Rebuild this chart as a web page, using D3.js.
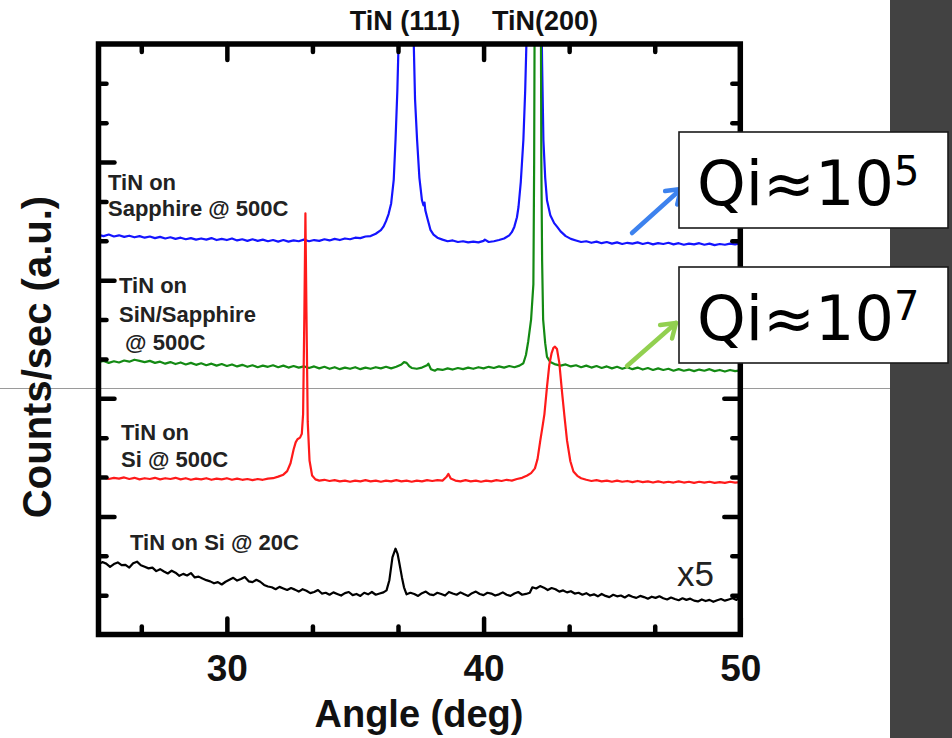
<!DOCTYPE html>
<html>
<head>
<meta charset="utf-8">
<script src="https://cdn.jsdelivr.net/npm/d3@7"></script>
<style>
  html, body { margin: 0; padding: 0; background: #fff; }
  svg { display: block; }
</style>
</head>
<body>
<svg id="chart" width="952" height="738"></svg>
<script>
// XRD scans of TiN films: [2-theta (deg), counts/sec in stacked arbitrary units]
const sapphire500 = [
  [25.0,10.15],[25.2,10.12],[25.4,10.16],[25.6,10.11],[25.8,10.14],[26.0,10.10],[26.2,10.13],[26.4,10.09],
  [26.6,10.12],[26.8,10.08],[27.0,10.11],[27.2,10.07],[27.4,10.10],[27.6,10.06],[27.8,10.09],[28.0,10.05],
  [28.2,10.08],[28.4,10.04],[28.6,10.07],[28.8,10.03],[29.0,10.06],[29.2,10.03],[29.4,10.07],[29.6,10.02],
  [29.8,10.05],[30.0,10.02],[30.2,10.06],[30.4,10.01],[30.6,10.04],[30.8,10.00],[31.0,10.04],[31.2,10.00],
  [31.4,10.03],[31.6,9.99],[31.8,10.02],[32.0,9.98],[32.2,10.02],[32.4,9.98],[32.6,10.01],[32.8,9.99],
  [33.0,10.03],[33.2,9.99],[33.4,10.02],[33.6,10.00],[33.8,10.04],[34.0,10.01],[34.2,10.05],[34.4,10.02],
  [34.6,10.06],[34.8,10.04],[35.0,10.08],[35.2,10.07],[35.4,10.11],[35.6,10.12],[35.8,10.18],[36.0,10.27],
  [36.1,10.36],[36.2,10.50],[36.3,10.68],[36.4,10.95],[36.5,11.55],[36.57,12.56],[36.64,13.80],[36.70,15.30],
  [36.80,19.5],[36.90,23.0],[36.98,24.0],[37.06,23.0],[37.15,19.5],[37.27,15.30],[37.33,13.6],[37.41,12.56],
  [37.50,11.60],[37.60,11.03],[37.66,10.90],[37.70,10.97],[37.73,10.78],[37.80,10.60],[37.93,10.28],[38.05,10.16],
  [38.2,10.08],[38.4,10.03],[38.6,9.99],[38.8,10.01],[39.0,9.97],[39.2,9.99],[39.4,9.96],[39.6,9.98],
  [39.8,9.96],[40.0,10.00],[40.05,10.03],[40.2,9.97],[40.4,9.99],[40.6,10.02],[40.8,10.06],[41.0,10.14],
  [41.1,10.22],[41.2,10.36],[41.3,10.60],[41.36,10.86],[41.45,11.50],[41.55,12.56],[41.62,13.80],[41.68,15.30],
  [41.78,19.5],[41.88,23.0],[41.98,24.0],[42.08,23.0],[42.18,19.5],[42.28,14.5],[42.33,12.56],[42.40,11.60],
  [42.47,11.03],[42.6,10.65],[42.75,10.45],[42.86,10.36],[43.0,10.24],[43.2,10.12],[43.4,10.05],[43.6,10.01],
  [43.8,9.97],[44.0,9.99],[44.2,9.95],[44.4,9.98],[44.6,9.94],[44.8,9.97],[45.0,9.93],[45.2,9.96],
  [45.4,9.92],[45.6,9.95],[45.8,9.93],[46.0,9.96],[46.2,9.92],[46.4,9.95],[46.6,9.91],[46.8,9.94],
  [47.0,9.92],[47.2,9.95],[47.4,9.91],[47.6,9.94],[47.8,9.90],[48.0,9.93],[48.2,9.91],[48.4,9.94],
  [48.6,9.90],[48.8,9.93],[49.0,9.89],[49.2,9.92],[49.4,9.90],[49.6,9.93],[49.8,9.91],[50.0,9.94]
];

const sinSapphire500 = [
  [25.0,6.92],[25.2,6.95],[25.4,6.90],[25.6,6.94],[25.8,6.91],[26.0,6.96],[26.2,6.93],[26.4,6.98],
  [26.6,6.95],[26.8,6.92],[27.0,6.95],[27.2,6.90],[27.4,6.93],[27.6,6.88],[27.8,6.92],[28.0,6.87],
  [28.2,6.91],[28.4,6.86],[28.6,6.90],[28.8,6.85],[29.0,6.89],[29.2,6.84],[29.4,6.88],[29.6,6.83],
  [29.8,6.87],[30.0,6.82],[30.2,6.86],[30.4,6.81],[30.6,6.85],[30.8,6.80],[31.0,6.84],[31.2,6.79],
  [31.4,6.83],[31.6,6.80],[31.8,6.84],[32.0,6.79],[32.2,6.83],[32.4,6.78],[32.6,6.82],[32.8,6.78],
  [33.0,6.81],[33.2,6.77],[33.4,6.81],[33.6,6.76],[33.8,6.80],[34.0,6.75],[34.2,6.79],[34.4,6.74],
  [34.6,6.78],[34.8,6.75],[35.0,6.79],[35.2,6.74],[35.4,6.78],[35.6,6.75],[35.8,6.79],[36.0,6.76],
  [36.2,6.80],[36.4,6.76],[36.6,6.80],[36.8,6.86],[36.9,6.92],[37.0,6.90],[37.1,6.82],[37.2,6.77],
  [37.4,6.75],[37.6,6.78],[37.8,6.84],[37.85,6.88],[37.95,6.74],[38.1,6.70],[38.2,6.74],[38.4,6.72],
  [38.6,6.76],[38.8,6.73],[39.0,6.77],[39.2,6.74],[39.4,6.78],[39.6,6.75],[39.8,6.79],[40.0,6.76],
  [40.2,6.80],[40.4,6.77],[40.6,6.81],[40.8,6.78],[41.0,6.82],[41.2,6.79],[41.4,6.83],[41.55,6.89],
  [41.65,7.10],[41.74,7.45],[41.85,8.00],[41.94,8.90],[41.97,12.0],[41.99,16.0],[42.11,40.0],[42.23,16.0],
  [42.25,12.0],[42.28,9.5],[42.32,8.0],[42.40,7.40],[42.47,7.05],[42.6,6.92],[42.8,6.86],[43.0,6.83],
  [43.2,6.86],[43.4,6.81],[43.6,6.84],[43.8,6.79],[44.0,6.83],[44.2,6.78],[44.4,6.82],[44.6,6.77],
  [44.8,6.81],[45.0,6.76],[45.2,6.80],[45.4,6.75],[45.6,6.79],[45.8,6.74],[46.0,6.78],[46.2,6.73],
  [46.4,6.77],[46.6,6.72],[46.8,6.76],[47.0,6.72],[47.2,6.75],[47.4,6.70],[47.6,6.74],[47.8,6.70],
  [48.0,6.73],[48.2,6.69],[48.4,6.73],[48.6,6.70],[48.8,6.74],[49.0,6.69],[49.2,6.72],[49.4,6.68],
  [49.6,6.72],[49.8,6.69],[50.0,6.71]
];

const si500 = [
  [25.0,3.96],[25.2,3.99],[25.4,3.95],[25.6,3.98],[25.8,3.96],[26.0,3.99],[26.2,3.95],[26.4,3.98],
  [26.6,3.94],[26.8,3.97],[27.0,3.95],[27.2,3.98],[27.4,3.94],[27.6,3.97],[27.8,3.95],[28.0,3.98],
  [28.2,3.94],[28.4,3.97],[28.6,3.93],[28.8,3.96],[29.0,3.94],[29.2,3.97],[29.4,3.93],[29.6,3.96],
  [29.8,3.94],[30.0,3.97],[30.2,3.93],[30.4,3.96],[30.6,3.93],[30.8,3.95],[31.0,3.92],[31.2,3.95],
  [31.4,3.93],[31.6,3.96],[31.8,3.97],[32.0,4.01],[32.2,4.06],[32.35,4.15],[32.48,4.35],[32.6,4.70],
  [32.68,4.88],[32.75,4.96],[32.85,5.00],[32.92,5.10],[32.97,5.60],[33.02,8.20],[33.06,10.70],[33.10,8.20],
  [33.15,5.40],[33.22,4.42],[33.32,4.04],[33.45,3.94],[33.6,3.91],[33.8,3.93],[34.0,3.90],[34.2,3.92],
  [34.4,3.89],[34.6,3.91],[34.8,3.88],[35.0,3.91],[35.2,3.89],[35.4,3.92],[35.6,3.89],[35.8,3.91],
  [36.0,3.88],[36.2,3.91],[36.4,3.89],[36.6,3.92],[36.8,3.89],[37.0,3.91],[37.2,3.88],[37.4,3.91],
  [37.6,3.89],[37.8,3.92],[38.0,3.90],[38.2,3.92],[38.4,3.91],[38.55,4.00],[38.63,4.08],[38.72,3.96],
  [38.9,3.91],[39.1,3.89],[39.3,3.92],[39.5,3.89],[39.7,3.91],[39.9,3.88],[40.1,3.91],[40.3,3.89],
  [40.5,3.92],[40.7,3.90],[40.9,3.93],[41.1,3.91],[41.3,3.95],[41.5,3.98],[41.7,4.04],[41.85,4.10],
  [42.0,4.22],[42.1,4.45],[42.21,4.93],[42.3,5.30],[42.37,5.60],[42.47,6.29],[42.56,6.85],[42.65,7.15],
  [42.72,7.28],[42.78,7.31],[42.86,7.25],[42.95,6.90],[43.06,6.13],[43.15,5.55],[43.25,4.93],[43.38,4.40],
  [43.5,4.14],[43.65,4.03],[43.8,3.97],[44.0,3.93],[44.2,3.90],[44.4,3.92],[44.6,3.89],[44.8,3.91],
  [45.0,3.88],[45.2,3.91],[45.4,3.88],[45.6,3.90],[45.8,3.87],[46.0,3.90],[46.2,3.87],[46.4,3.89],
  [46.6,3.86],[46.8,3.89],[47.0,3.86],[47.2,3.88],[47.4,3.86],[47.6,3.89],[47.8,3.86],[48.0,3.88],
  [48.2,3.85],[48.4,3.88],[48.6,3.86],[48.8,3.88],[49.0,3.85],[49.2,3.87],[49.4,3.85],[49.6,3.88],
  [49.8,3.86],[50.0,3.87]
];

// room-temperature film, plotted at 5x gain
const si20 = [
  [25.0,1.78],[25.15,1.84],[25.3,1.80],[25.45,1.72],[25.6,1.79],[25.75,1.83],[25.9,1.76],[26.05,1.77],
  [26.2,1.70],[26.35,1.81],[26.5,1.85],[26.65,1.76],[26.8,1.72],[26.95,1.68],[27.1,1.70],[27.25,1.61],
  [27.4,1.66],[27.55,1.60],[27.7,1.55],[27.85,1.62],[28.0,1.57],[28.15,1.49],[28.3,1.54],[28.45,1.50],
  [28.6,1.56],[28.75,1.45],[28.9,1.47],[29.05,1.42],[29.2,1.38],[29.35,1.35],[29.5,1.30],[29.65,1.33],
  [29.8,1.27],[29.95,1.34],[30.1,1.39],[30.25,1.44],[30.4,1.37],[30.55,1.41],[30.7,1.46],[30.85,1.35],
  [31.0,1.33],[31.15,1.39],[31.3,1.34],[31.45,1.26],[31.6,1.22],[31.75,1.20],[31.9,1.15],[32.05,1.21],
  [32.2,1.17],[32.35,1.13],[32.5,1.18],[32.65,1.14],[32.8,1.09],[32.95,1.15],[33.1,1.11],[33.25,1.05],
  [33.4,1.08],[33.55,1.13],[33.7,1.04],[33.85,1.06],[34.0,1.01],[34.15,1.07],[34.3,1.03],[34.45,0.99],
  [34.6,1.05],[34.75,1.08],[34.9,1.00],[35.05,1.03],[35.2,0.98],[35.35,1.06],[35.5,1.02],[35.65,1.08],
  [35.8,1.01],[35.95,1.04],[36.1,1.07],[36.22,1.12],[36.33,1.38],[36.45,1.96],[36.57,2.18],[36.65,2.05],
  [36.72,1.81],[36.82,1.45],[36.90,1.20],[37.0,1.02],[37.15,1.06],[37.3,1.03],[37.45,0.98],[37.6,1.05],
  [37.75,1.09],[37.9,1.02],[38.05,1.00],[38.2,1.06],[38.35,1.03],[38.5,0.99],[38.65,1.08],[38.8,1.04],
  [38.95,1.01],[39.1,1.07],[39.25,1.02],[39.4,0.98],[39.55,1.05],[39.7,1.09],[39.85,1.03],[40.0,1.00],
  [40.15,1.06],[40.3,1.04],[40.45,0.99],[40.6,1.02],[40.75,1.07],[40.9,1.01],[41.05,0.98],[41.2,1.04],
  [41.35,1.08],[41.5,1.01],[41.65,1.03],[41.8,1.06],[41.9,1.20],[42.05,1.17],[42.2,1.23],[42.35,1.19],
  [42.5,1.13],[42.65,1.18],[42.8,1.15],[42.95,1.09],[43.1,1.12],[43.25,1.07],[43.4,1.10],[43.55,1.04],
  [43.7,1.06],[43.85,1.01],[44.0,1.05],[44.15,0.99],[44.3,1.02],[44.45,0.97],[44.6,1.03],[44.75,0.98],
  [44.9,0.95],[45.05,1.01],[45.2,0.97],[45.35,0.99],[45.5,0.94],[45.65,1.00],[45.8,0.96],[45.95,0.93],
  [46.1,0.98],[46.25,0.95],[46.4,0.91],[46.55,0.96],[46.7,0.93],[46.85,0.97],[47.0,0.92],[47.15,0.89],
  [47.3,0.94],[47.45,0.90],[47.6,0.87],[47.75,0.92],[47.9,0.88],[48.05,0.91],[48.2,0.86],[48.35,0.84],
  [48.5,0.89],[48.65,0.85],[48.8,0.88],[48.95,0.83],[49.1,0.87],[49.25,0.90],[49.4,0.86],[49.55,0.89],
  [49.7,0.92],[49.85,0.88],[50.0,0.96]
];

const seriesColors = ["#1414ff", "#138a13", "#ff1a1a", "#000000"];
const xTickValues = [30, 40, 50];
const xTickLabels = ["30", "40", "50"];
const xDomain = [25, 50];
const yDomain = [0, 15];
const peakLabels = ["TiN (111)", "TiN(200)"];
const qualityExponents = ["5", "7"];

(function () {
  const svg = d3.select("#chart");
  const W = 952, H = 738;
  const pL = 98.5, pR = 740.3, pT = 44, pB = 634.5;

  const x = d3.scaleLinear().domain(xDomain).range([pL, pR]);
  const y = d3.scaleLinear().domain(yDomain).range([pB, pT]);

  svg.append("rect").attr("width", W).attr("height", H).attr("fill", "#fff");

  // slide elements behind the plot
  svg.append("rect").attr("x", 890).attr("y", 0).attr("width", W - 890).attr("height", H).attr("fill", "#424242");
  svg.append("line").attr("x1", 0).attr("x2", 890).attr("y1", 388.5).attr("y2", 388.5)
    .attr("stroke", "#9a9a9a").attr("stroke-width", 1.2);

  // plot clip
  svg.append("defs").append("clipPath").attr("id", "plotClip")
    .append("rect").attr("x", pL).attr("y", pT).attr("width", pR - pL).attr("height", pB - pT);

  const line = d3.line().x(d => x(d[0])).y(d => y(d[1])).curve(d3.curveLinear);
  const plot = svg.append("g").attr("clip-path", "url(#plotClip)");
  [sapphire500, sinSapphire500, si500, si20].forEach((s, i) => {
    plot.append("path").datum(s).attr("d", line)
      .attr("fill", "none").attr("stroke", seriesColors[i])
      .attr("stroke-width", 2.2).attr("stroke-linejoin", "round");
  });

  // axes: inward ticks on all four sides
  const xMinor = d3.range(20, 50.001, 10 / 3)
    .filter(v => v > xDomain[0] + 0.1 && v < xDomain[1] - 0.1 && Math.abs(v % 10) > 0.5 && Math.abs(v % 10) < 9.5);
  const yMajor = d3.range(3, 15, 3);
  const yMinor = d3.range(1, 15, 1).filter(v => v % 3 !== 0);
  const MAJ = 16, MIN = 8;

  function styleAxis(g) {
    g.select(".domain").remove();
    g.selectAll(".tick line").attr("stroke", "#000").attr("stroke-width", 4.5).attr("stroke-linecap", "round");
  }

  const FONT = "'Liberation Sans', Arial, sans-serif";

  svg.append("g").attr("transform", `translate(0,${pB})`)
    .call(d3.axisBottom(x).tickValues(xTickValues).tickSize(-MAJ).tickPadding(20)
      .tickFormat((d, i) => xTickLabels[i]))
    .call(styleAxis)
    .call(g => g.selectAll("text").attr("font-family", FONT)
      .attr("font-weight", "bold").attr("font-size", 37).attr("fill", "#111").attr("dy", "0.71em"));
  svg.append("g").attr("transform", `translate(0,${pB})`)
    .call(d3.axisBottom(x).tickValues(xMinor).tickSize(-MIN).tickFormat(""))
    .call(styleAxis);
  svg.append("g").attr("transform", `translate(0,${pT})`)
    .call(d3.axisTop(x).tickValues(xTickValues.filter(v => v < 50)).tickSize(-MAJ).tickFormat(""))
    .call(styleAxis);
  svg.append("g").attr("transform", `translate(0,${pT})`)
    .call(d3.axisTop(x).tickValues(xMinor).tickSize(-MIN).tickFormat(""))
    .call(styleAxis);
  svg.append("g").attr("transform", `translate(${pL},0)`)
    .call(d3.axisLeft(y).tickValues(yMajor).tickSize(-MAJ).tickFormat(""))
    .call(styleAxis);
  svg.append("g").attr("transform", `translate(${pL},0)`)
    .call(d3.axisLeft(y).tickValues(yMinor).tickSize(-MIN).tickFormat(""))
    .call(styleAxis);
  svg.append("g").attr("transform", `translate(${pR},0)`)
    .call(d3.axisRight(y).tickValues(yMajor).tickSize(-MAJ).tickFormat(""))
    .call(styleAxis);
  svg.append("g").attr("transform", `translate(${pR},0)`)
    .call(d3.axisRight(y).tickValues(yMinor).tickSize(-MIN).tickFormat(""))
    .call(styleAxis);

  // frame
  svg.append("rect").attr("x", pL).attr("y", pT).attr("width", pR - pL).attr("height", pB - pT)
    .attr("fill", "none").attr("stroke", "#000").attr("stroke-width", 5.5);

  // axis titles
  svg.append("text").attr("x", 419).attr("y", 727).attr("text-anchor", "middle")
    .attr("font-family", FONT).attr("font-weight", "bold").attr("font-size", 38).attr("fill", "#111")
    .text("Angle (deg)");
  svg.append("text").attr("transform", "translate(51,357) rotate(-90)").attr("text-anchor", "middle")
    .attr("font-family", FONT).attr("font-weight", "bold").attr("font-size", 40).attr("fill", "#111")
    .text("Counts/sec (a.u.)");

  // peak assignments
  svg.append("text").attr("x", 405).attr("y", 30).attr("text-anchor", "middle")
    .attr("font-family", FONT).attr("font-weight", "bold").attr("font-size", 27).attr("fill", "#111")
    .text(peakLabels[0]);
  svg.append("text").attr("x", 545).attr("y", 30).attr("text-anchor", "middle")
    .attr("font-family", FONT).attr("font-weight", "bold").attr("font-size", 27).attr("fill", "#111")
    .text(peakLabels[1]);

  // sample labels
  const sampleLabels = [
    { x: 108, lines: [["TiN on", 190], ["Sapphire @ 500C", 216]] },
    { x: 119, lines: [["TiN on", 293], ["SiN/Sapphire", 322], ["\u00a0@ 500C", 350]] },
    { x: 121, lines: [["TiN on", 440], ["Si @ 500C", 467]] },
    { x: 130, lines: [["TiN on Si @ 20C", 550]] }
  ];
  sampleLabels.forEach(lab => {
    lab.lines.forEach(([t, yy]) => {
      svg.append("text").attr("x", lab.x).attr("y", yy)
        .attr("font-family", FONT).attr("font-weight", "bold").attr("font-size", 22)
        .attr("fill", "#222").text(t);
    });
  });

  svg.append("text").attr("x", 677).attr("y", 586)
    .attr("font-family", FONT).attr("font-size", 35).attr("fill", "#222").text("x5");

  // quality-factor call-outs
  function arrow(x1, y1, x2, y2, color) {
    const a = Math.atan2(y2 - y1, x2 - x1), L = 16, s = 0.6;
    const g = svg.append("g").attr("stroke", color).attr("stroke-width", 4.5)
      .attr("stroke-linecap", "round").attr("stroke-linejoin", "round").attr("fill", "none");
    g.append("line").attr("x1", x1).attr("y1", y1).attr("x2", x2).attr("y2", y2);
    g.append("polyline").attr("points", [
      [x2 - L * Math.cos(a - s), y2 - L * Math.sin(a - s)],
      [x2, y2],
      [x2 - L * Math.cos(a + s), y2 - L * Math.sin(a + s)]
    ].map(p => p.join(",")).join(" "));
  }
  arrow(632, 233, 681, 189, "#3d82ee");
  arrow(627, 366, 676, 323, "#92d050");

  [[132, 205], [267, 340]].forEach(([by, base], i) => {
    svg.append("rect").attr("x", 679).attr("y", by).attr("width", 269).attr("height", 96)
      .attr("fill", "#fff").attr("stroke", "#1a1a1a").attr("stroke-width", 1.6);
    const t = svg.append("text").attr("x", 697).attr("y", base)
      .attr("font-family", "'DejaVu Sans', Verdana, sans-serif").attr("font-size", 62).attr("fill", "#000");
    t.append("tspan").text("Qi\u224810");
    t.append("tspan").attr("dy", -20).attr("font-size", 40).text(qualityExponents[i]);
  });
})();
</script>
</body>
</html>
